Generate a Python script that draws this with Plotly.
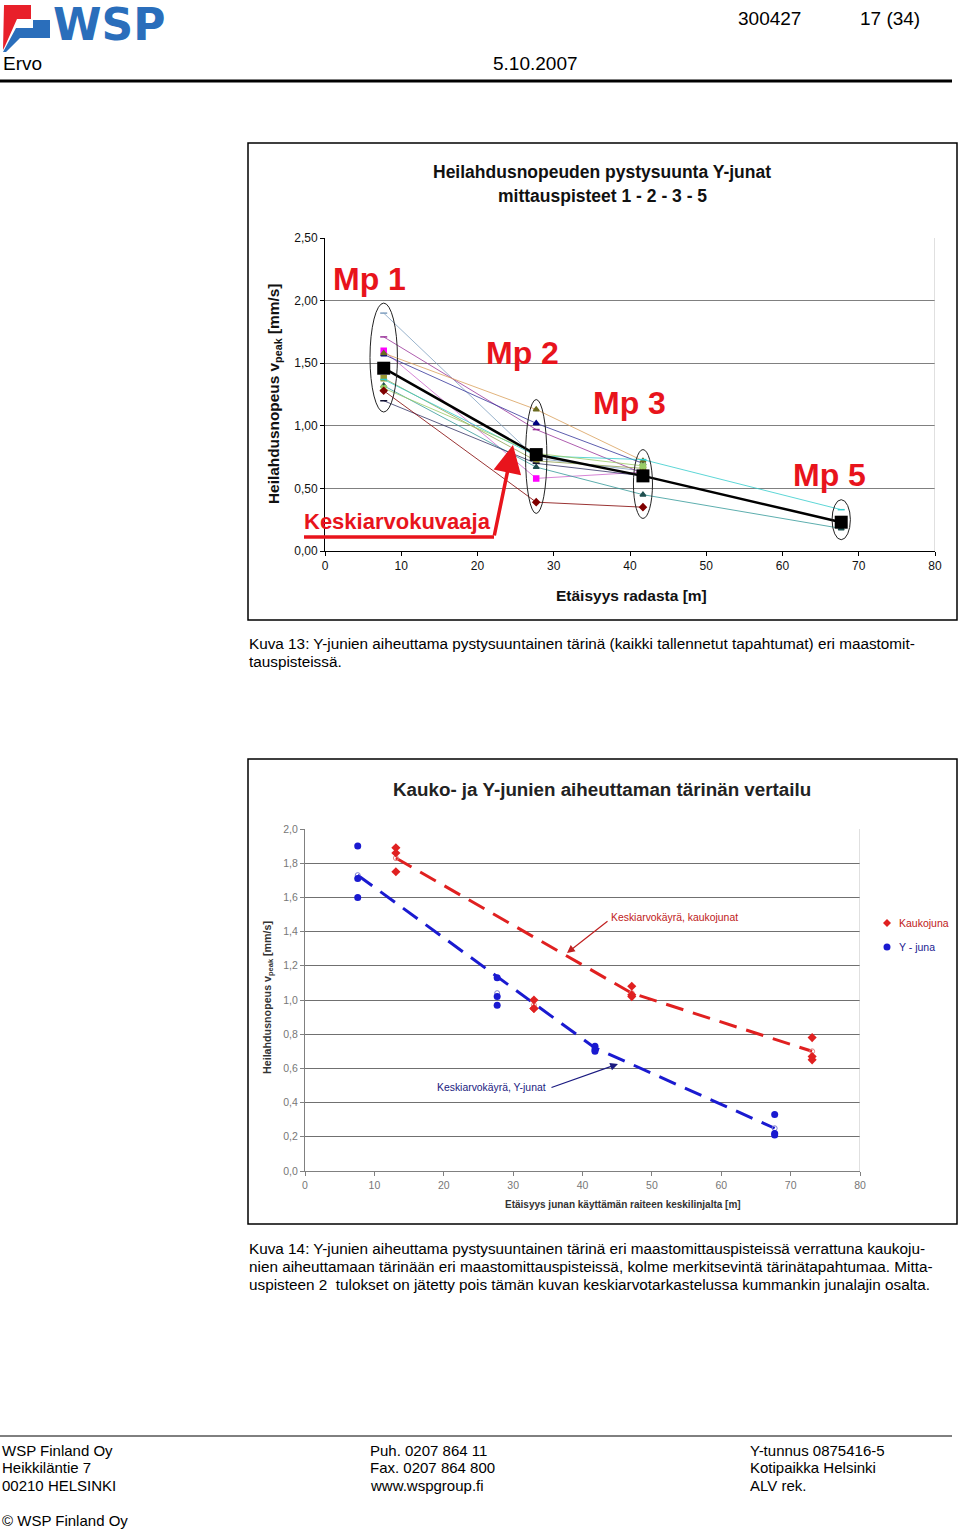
import plotly.graph_objects as go

W, H = 960, 1529
def PX(x): return x / W
def PY(y): return 1 - y / H

# ---------------- Chart 1 data (Kuva 13) ----------------
mp_labels = ["Mp 1", "Mp 2", "Mp 3", "Mp 5"]
mp_distance = [7.7, 27.7, 41.7, 67.7]
event_a = [1.90, 0.74, 0.64, None]
event_b = [1.71, 0.97, 0.62, None]
event_c = [1.60, 0.58, 0.63, None]
event_d = [1.57, 1.02, 0.70, None]
event_e = [1.58, 1.13, 0.72, None]
event_f = [1.38, 0.72, 0.66, None]
event_g = [1.37, 0.76, 0.73, 0.33]
event_h = [1.32, 0.67, 0.45, 0.18]
event_i = [1.30, 0.78, 0.68, None]
event_j = [1.20, 0.70, 0.60, None]
event_k = [1.28, 0.39, 0.35, None]
mean_curve = [1.46, 0.77, 0.60, 0.23]
c1_yticks = [0, 0.5, 1.0, 1.5, 2.0, 2.5]
c1_yticklabels = ["0,00", "0,50", "1,00", "1,50", "2,00", "2,50"]
c1_xticks = [0, 10, 20, 30, 40, 50, 60, 70, 80]

# ---------------- Chart 2 data (Kuva 14) ----------------
yjuna_distance = [7.6, 27.7, 41.8, 67.7]
yjuna_mp1 = [1.90, 1.71, 1.60]
yjuna_mp2 = [1.13, 1.02, 0.97]
yjuna_mp3 = [0.73, 0.71, 0.70]
yjuna_mp5 = [0.33, 0.22, 0.21]
yjuna_mean = [1.73, 1.04, 0.72, 0.25]
kauko_distance = [13.1, 33.0, 47.1, 73.1]
kauko_mp1 = [1.89, 1.86, 1.75]
kauko_mp2 = [1.00, 0.95, 0.95]
kauko_mp3 = [1.08, 1.03, 1.02]
kauko_mp5 = [0.78, 0.67, 0.65]
kauko_mean = [1.83, 0.97, 1.04, 0.70]
c2_yticks = [0, 0.2, 0.4, 0.6, 0.8, 1.0, 1.2, 1.4, 1.6, 1.8, 2.0]
c2_yticklabels = ["0,0", "0,2", "0,4", "0,6", "0,8", "1,0", "1,2", "1,4", "1,6", "1,8", "2,0"]
c2_xticks = [0, 10, 20, 30, 40, 50, 60, 70, 80]

FONT = "Liberation Sans, Arial, sans-serif"
RED1 = "#e8141c"
KRED = "#e02020"
YBLUE = "#1a1ad0"
fig = go.Figure()

# ---- chart 1 traces ----
events = [event_a, event_b, event_c, event_d, event_e, event_f,
          event_g, event_h, event_i, event_j, event_k]
styles = [
    ("#7f9fbf", "line-ew", "#7f9fbf"),
    ("#993399", "line-ew", "#993399"),
    ("#cc66cc", "square", "#ff00ff"),
    ("#333399", "triangle-up", "#000080"),
    ("#d9a05b", "triangle-up", "#6b6b20"),
    ("#8fa050", "square", "#999933"),
    ("#33cccc", "line-ew", "#33cccc"),
    ("#339999", "triangle-up", "#1f4f4f"),
    ("#99cc66", "x", "#99cc66"),
    ("#333366", "line-ew", "#111133"),
    ("#800000", "diamond", "#800000"),
]
for ev, (lc, sym, mc) in zip(events, styles):
    fig.add_trace(go.Scatter(
        x=mp_distance, y=ev, mode="lines+markers", xaxis="x", yaxis="y",
        line=dict(color=lc, width=0.8),
        marker=dict(symbol=sym, size=5, color=mc, line=dict(color=mc, width=1.5)),
        hoverinfo="skip"))
fig.add_trace(go.Scatter(
    x=mp_distance, y=mean_curve, mode="lines+markers", xaxis="x", yaxis="y",
    line=dict(color="black", width=2.5),
    marker=dict(symbol="square", size=13, color="black")))

# ---- chart 2 traces ----
def flat(xs, groups):
    X, Y = [], []
    for x, g in zip(xs, groups):
        for v in g:
            X.append(x); Y.append(v)
    return X, Y

kx, ky = flat(kauko_distance, [kauko_mp1, kauko_mp2, kauko_mp3, kauko_mp5])
yx, yy = flat(yjuna_distance, [yjuna_mp1, yjuna_mp2, yjuna_mp3, yjuna_mp5])
keep = [0, 2, 3]  # Mp 2 excluded from the mean curves
fig.add_trace(go.Scatter(
    x=[kauko_distance[i] for i in keep], y=[kauko_mean[i] for i in keep],
    mode="lines", xaxis="x2", yaxis="y2",
    line=dict(color=KRED, width=3, dash="18px,10px")))
fig.add_trace(go.Scatter(
    x=[yjuna_distance[i] for i in keep], y=[yjuna_mean[i] for i in keep],
    mode="lines", xaxis="x2", yaxis="y2",
    line=dict(color=YBLUE, width=3, dash="18px,10px")))
fig.add_trace(go.Scatter(
    x=kauko_distance, y=kauko_mean, mode="markers", xaxis="x2", yaxis="y2",
    marker=dict(symbol="circle-open", size=5, color="#e08080")))
fig.add_trace(go.Scatter(
    x=yjuna_distance, y=yjuna_mean, mode="markers", xaxis="x2", yaxis="y2",
    marker=dict(symbol="circle-open", size=5, color="#8080d0")))
fig.add_trace(go.Scatter(
    x=kx, y=ky, mode="markers", xaxis="x2", yaxis="y2", name="Kaukojuna",
    marker=dict(symbol="diamond", size=7, color=KRED)))
fig.add_trace(go.Scatter(
    x=yx, y=yy, mode="markers", xaxis="x2", yaxis="y2", name="Y - juna",
    marker=dict(symbol="circle", size=7, color=YBLUE)))

shapes = []
ann = []

def text(x, y, t, size, color="black", bold=False, xanchor="center", angle=0, family=FONT):
    f = dict(size=size, color=color, family=family)
    if bold:
        f["weight"] = "bold"
    return dict(x=PX(x), y=PY(y), xref="paper", yref="paper", text=t, showarrow=False,
                xanchor=xanchor, yanchor="middle", textangle=angle, font=f)

def arrow(head, tail, color, width, size):
    return dict(x=PX(head[0]), y=PY(head[1]), xref="paper", yref="paper",
                ax=tail[0] - head[0], ay=tail[1] - head[1], axref="pixel", ayref="pixel",
                text="", showarrow=True, arrowhead=2, arrowsize=size,
                arrowwidth=width, arrowcolor=color)

def poly(points, color):
    d = "M " + " L ".join(f"{PX(a)} {PY(b)}" for a, b in points) + " Z"
    return dict(type="path", xref="paper", yref="paper", path=d,
                fillcolor=color, line=dict(width=0))

# ellipses around measurement points
half_w = [1.8, 1.4, 1.25, 1.2]
for i, x in enumerate(mp_distance):
    vals = [e[i] for e in events if e[i] is not None] + [mean_curve[i]]
    shapes.append(dict(type="circle", xref="x", yref="y",
                       x0=x - half_w[i], x1=x + half_w[i],
                       y0=min(vals) - 0.09, y1=max(vals) + 0.08,
                       line=dict(color="#222", width=1)))
# right border of plot 1 & 2
shapes.append(dict(type="line", xref="x", yref="y", x0=80, x1=80, y0=0, y1=2.5,
                   line=dict(color="#c0c0c0", width=1)))
shapes.append(dict(type="line", xref="x2", yref="y2", x0=80, x1=80, y0=0, y1=2.0,
                   line=dict(color="#c0c0c0", width=1)))

# Mp labels
mp_label_pos = [(5.9, 2.17), (25.9, 1.58), (39.9, 1.18), (66.1, 0.61)]
for lab, (lx, ly) in zip(mp_labels, mp_label_pos):
    ann.append(dict(x=lx, y=ly, xref="x", yref="y", text=lab, showarrow=False,
                    xanchor="center", yanchor="middle",
                    font=dict(size=32, color=RED1, family=FONT, weight="bold")))
ann.append(text(397, 522, "Keskiarvokuvaaja", 22, RED1, True))
shapes.append(dict(type="path", xref="paper", yref="paper",
                   path=f"M {PX(304)} {PY(537)} L {PX(494)} {PY(537)}",
                   line=dict(color=RED1, width=3.5)))
ann.append(arrow((513, 445), (494, 537), RED1, 3.5, 1.6))

# frames around charts
shapes.append(dict(type="rect", xref="paper", yref="paper", x0=PX(248), x1=PX(957),
                   y0=PY(620), y1=PY(143), line=dict(color="black", width=1.5)))
shapes.append(dict(type="rect", xref="paper", yref="paper", x0=PX(248), x1=PX(957),
                   y0=PY(1224), y1=PY(759), line=dict(color="black", width=1.5)))

# chart 1 titles
ann.append(text(602, 172, "Heilahdusnopeuden pystysuunta Y-junat", 17.5, "#111", True))
ann.append(text(602, 196, "mittauspisteet 1 - 2 - 3 - 5", 17.5, "#111", True))
ann.append(text(631, 595, "Etäisyys radasta [m]", 15.5, "#111", True))
ann.append(text(275, 394, "Heilahdusnopeus v<sub>peak</sub> [mm/s]", 15.4, "#111", True, angle=-90))

# chart 2 titles
ann.append(text(602, 789, "Kauko- ja Y-junien aiheuttaman tärinän vertailu", 18.8, "#222", True))
ann.append(text(623, 1204, "Etäisyys junan käyttämän raiteen keskilinjalta [m]", 10, "#333", True))
ann.append(text(268, 998, "Heilahdusnopeus v<sub>peak</sub> [mm/s]", 10.7, "#333", True, angle=-90))
ann.append(text(609, 917, "Keskiarvokäyrä, kaukojunat", 10.4, "#c02020", xanchor="left"))
ann.append(arrow((567, 953), (609, 920), "#c02020", 1.2, 1.3))
ann.append(text(548, 1087, "Keskiarvokäyrä, Y-junat", 10.4, "#1a1a80", xanchor="right"))
ann.append(arrow((618, 1064), (550, 1088), "#1a1a80", 1.2, 1.3))

# legend of chart 2 (drawn manually)
lx, ly1, ly2 = 887, 923, 947
shapes.append(poly([(lx - 4, ly1), (lx, ly1 - 4), (lx + 4, ly1), (lx, ly1 + 4)], KRED))
shapes.append(dict(type="circle", xref="paper", yref="paper",
                   x0=PX(lx - 3.5), x1=PX(lx + 3.5), y0=PY(ly2 + 3.5), y1=PY(ly2 - 3.5),
                   fillcolor=YBLUE, line=dict(width=0)))
ann.append(text(897, ly1, "Kaukojuna", 10.5, "#c02020", xanchor="left"))
ann.append(text(897, ly2, "Y - juna", 10.5, "#1a1a90", xanchor="left"))

# page header logo
shapes.append(poly([(4, 5), (31, 5), (31, 19), (17, 19), (5, 46), (3, 50)], "#e8202a"))
shapes.append(poly([(33, 20), (50, 20), (50, 38), (20, 38), (6, 52), (3, 52), (16, 28), (33, 28)], "#2a6ebb"))
ann.append(text(51, 25, "WSP", 44, "#2a6ebb", True, xanchor="left",
                family="DejaVu Sans, Liberation Sans, sans-serif"))
ann.append(text(736, 19, "300427", 19, xanchor="left"))
ann.append(text(858, 19, "17 (34)", 19, xanchor="left"))
ann.append(text(1, 64, "Ervo", 19, xanchor="left"))
ann.append(text(491, 64, "5.10.2007", 19, xanchor="left"))
shapes.append(dict(type="line", xref="paper", yref="paper", x0=0, x1=PX(952),
                   y0=PY(81), y1=PY(81), line=dict(color="black", width=3)))

# captions
cap_lines = [
    (643, "Kuva 13: Y-junien aiheuttama pystysuuntainen tärinä (kaikki tallennetut tapahtumat) eri maastomit-"),
    (661, "tauspisteissä."),
    (1248, "Kuva 14: Y-junien aiheuttama pystysuuntainen tärinä eri maastomittauspisteissä verrattuna kaukoju-"),
    (1266, "nien aiheuttamaan tärinään eri maastomittauspisteissä, kolme merkitsevintä tärinätapahtumaa. Mitta-"),
    (1284, "uspisteen 2  tulokset on jätetty pois tämän kuvan keskiarvotarkastelussa kummankin junalajin osalta."),
]
for yy_, t in cap_lines:
    ann.append(text(247, yy_, t.replace("  ", "&nbsp; "), 15.3, xanchor="left"))

# footer
shapes.append(dict(type="line", xref="paper", yref="paper", x0=0, x1=PX(952),
                   y0=PY(1436), y1=PY(1436), line=dict(color="black", width=1)))
footer_cols = [
    (0, ["WSP Finland Oy", "Heikkiläntie 7", "00210 HELSINKI"]),
    (368, ["Puh. 0207 864 11", "Fax. 0207 864 800", "www.wspgroup.fi"]),
    (748, ["Y-tunnus 0875416-5", "Kotipaikka Helsinki", "ALV rek."]),
]
for fx, lines in footer_cols:
    for k, t in enumerate(lines):
        ann.append(text(fx, 1450 + 17.5 * k, t, 15, xanchor="left"))
ann.append(text(0, 1520, "© WSP Finland Oy", 15, xanchor="left"))

fig.update_layout(
    width=W, height=H, margin=dict(l=0, r=0, t=0, b=0, autoexpand=False),
    paper_bgcolor="white", plot_bgcolor="white", showlegend=False,
    font=dict(family=FONT),
    xaxis=dict(domain=[PX(325), PX(935)], range=[0, 80], tickvals=c1_xticks,
               showgrid=False, zeroline=False, showline=True, linecolor="black",
               ticks="outside", ticklen=4, tickcolor="black", anchor="y",
               tickfont=dict(size=12, color="#111")),
    yaxis=dict(domain=[PY(551), PY(238)], range=[0, 2.5], tickvals=c1_yticks,
               ticktext=c1_yticklabels, showgrid=True, gridcolor="#808080",
               zeroline=False, showline=True, linecolor="black", ticks="outside",
               ticklen=4, tickcolor="black", anchor="x",
               tickfont=dict(size=12, color="#111")),
    xaxis2=dict(domain=[PX(305), PX(860)], range=[0, 80], tickvals=c2_xticks,
                showgrid=False, zeroline=False, showline=True, linecolor="#808080",
                ticks="outside", ticklen=4, tickcolor="#808080", anchor="y2",
                tickfont=dict(size=10.5, color="#777")),
    yaxis2=dict(domain=[PY(1171), PY(829)], range=[0, 2.0], tickvals=c2_yticks,
                ticktext=c2_yticklabels, showgrid=True, gridcolor="#707070",
                zeroline=False, showline=True, linecolor="#808080", ticks="outside",
                ticklen=4, tickcolor="#808080", anchor="x2",
                tickfont=dict(size=10.5, color="#777")),
    shapes=shapes, annotations=ann,
)

fig.write_html("out.html", config={"displayModeBar": False},
               post_script="document.body.style.margin='0';")
